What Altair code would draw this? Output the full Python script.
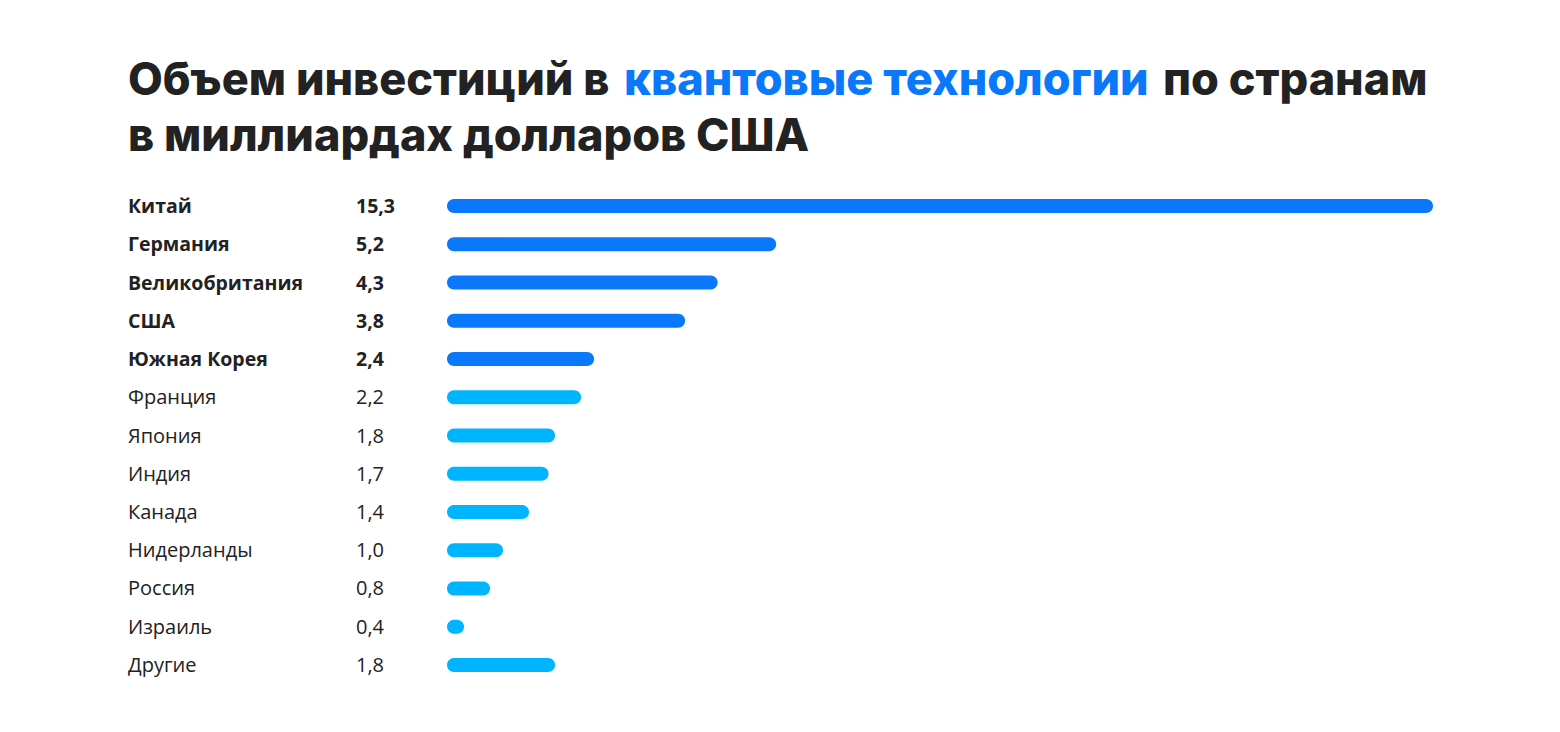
import altair as alt
import pandas as pd

# Investment in quantum technologies, billions of US dollars
countries = ["Китай", "Германия", "Великобритания", "США", "Южная Корея",
             "Франция", "Япония", "Индия", "Канада", "Нидерланды",
             "Россия", "Израиль", "Другие"]
values = [15.3, 5.2, 4.3, 3.8, 2.4, 2.2, 1.8, 1.7, 1.4, 1.0, 0.8, 0.4, 1.8]
leaders = ["Китай", "Германия", "Великобритания", "США", "Южная Корея"]

DARK_BLUE = "#0A78FA"
LIGHT_BLUE = "#00B5FF"
TEXT = "#222222"

df = pd.DataFrame({
    "country": countries,
    "value": values,
    "label": [f"{v:.1f}".replace(".", ",") for v in values],
    "group": ["top" if c in leaders else "rest" for c in countries],
})

W, H = 1305, 497
BAR_START = 319  # pixel where every bar begins
y_enc = alt.Y("country:N", sort=countries, axis=None,
              scale=alt.Scale(paddingInner=0, paddingOuter=0))

base = alt.Chart(df)

bars = base.mark_bar(height=14, cornerRadius=7).encode(
    x=alt.X("value:Q", axis=None, stack=None,
            scale=alt.Scale(domain=[0, 15.3], range=[310, W], nice=False)),
    x2=alt.value(BAR_START),
    y=y_enc,
    color=alt.Color("group:N", legend=None,
                    scale=alt.Scale(domain=["top", "rest"],
                                    range=[DARK_BLUE, LIGHT_BLUE])),
)


def row_text(group, weight, size, field, x):
    return base.transform_filter(alt.datum.group == group).mark_text(
        align="left", baseline="middle", font="Open Sans", fontSize=size,
        fontWeight=weight, color=TEXT, dy=1,
    ).encode(x=alt.value(x), y=y_enc, text=f"{field}:N")


labels = (row_text("top", 700, 19.5, "country", 0)
          + row_text("rest", 400, 20, "country", 0)
          + row_text("top", 700, 19.5, "label", 228)
          + row_text("rest", 400, 20, "label", 228))

# Two-line heading, with the highlighted phrase in blue
head_font = dict(font="Inter", fontSize=45, fontWeight=800,
                 baseline="alphabetic", align="left")
title_parts = pd.DataFrame({
    "t": ["Объем инвестиций в", "квантовые технологии", "по странам",
          "в миллиардах долларов США"],
    "c": ["black", "blue", "black", "black"],
})


def head(i, x, y):
    row = title_parts.iloc[[i]]
    col = DARK_BLUE if row["c"].iloc[0] == "blue" else TEXT
    return alt.Chart(row).mark_text(color=col, **head_font).encode(
        x=alt.value(x), y=alt.value(y), text="t:N")


title = (head(0, 0, -92) + head(1, 496, -92) + head(2, 1035, -92)
         + head(3, 0, -36))

chart = alt.layer(bars, labels, title).properties(
    width=W, height=H,
    autosize=alt.AutoSizeParams(type="none"),
    padding={"left": 128, "top": 187, "right": 127, "bottom": 48},
    background="white",
).configure_view(stroke=None)

chart.save("out.html", embed_options={"renderer": "svg", "actions": False})
